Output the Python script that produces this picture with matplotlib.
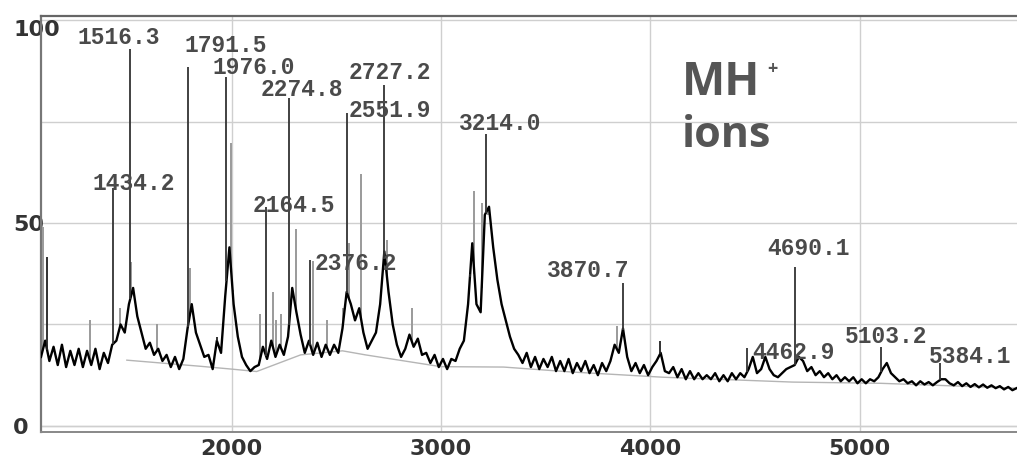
import numpy as np
import matplotlib.pyplot as plt

# spectrum trace, sampled every 20 m/z from 1090
trace_start = 1090
trace_step = 20
trace_int = [
    17, 21, 16, 19.5, 15, 20, 14.5, 18.5, 15, 19,
    14.5, 18.5, 15, 19, 14, 18, 15.5, 20, 21, 25,
    23, 30, 34, 27, 23, 19, 20.5, 17.5, 19, 16,
    17.5, 14.5, 17, 14, 16.5, 24, 30, 23, 20, 17,
    17.5, 14, 21, 18, 32, 44, 30, 22, 17, 15,
    13.5, 14.5, 15, 19.5, 16.5, 21, 17, 20, 17.5, 22,
    34, 28, 22.5, 18, 21, 17.5, 20.5, 17, 20, 17.5,
    20, 18, 24, 33, 30, 26, 29, 23, 19, 21,
    23, 30, 43, 33, 25, 20, 17, 19, 22.5, 19.5,
    21.5, 17.5, 18, 15.5, 17.5, 14.5, 16.5, 14, 16.5, 16,
    19, 21, 30, 45, 30, 28, 52, 54, 44, 36,
    30, 26, 22, 19, 17.5, 15.5, 18, 14.5, 17, 14,
    16.5, 14.5, 17, 13.5, 16, 13.5, 16.5, 13, 15.5, 13.5,
    16, 13, 15, 12.5, 15.5, 13.5, 16, 20, 18, 24,
    17, 13.5, 15.5, 13, 15, 12.5, 14.5, 16, 18, 13.5,
    13, 14.5, 12, 14, 11.5, 13.5, 11.5, 13, 11.5, 12.5,
    11.5, 13, 11, 12.5, 11, 13, 11.5, 13, 12, 14,
    17, 13, 14, 17, 14, 12.5, 12, 13, 14, 14.5,
    15, 17, 16, 13.5, 14.5, 12.5, 13.5, 12, 13, 11.5,
    12.5, 11, 12, 11, 12, 10.5, 11.5, 10.5, 11.5, 11,
    12, 14, 15.5, 13, 12, 11, 11.5, 10.5, 11, 10,
    11, 10.2, 10.8, 10, 10.8, 11.5, 11.5, 10.5, 10, 10.8,
    9.8, 10.5, 9.6, 10.3, 9.5, 10.2, 9.4, 10, 9.3, 9.8,
    9, 9.6, 8.8, 9.3,
]
trace_mz = trace_start + trace_step * np.arange(len(trace_int))

# labelled MH+ peaks
peak_mz = [1434.2, 1516.3, 1791.5, 1976.0, 2164.5, 2274.8, 2376.2, 2551.9,
           2727.2, 3214.0, 3870.7, 4462.9, 4690.1, 5103.2, 5384.1]
peak_int = [58.6, 92.8, 88.4, 85.9, 53.9, 80.8, 40.9, 77.0,
            84.0, 72.0, 35.2, 19.2, 39.1, 19.4, 15.5]
peak_labels = ["1434.2", "1516.3", "1791.5", "1976.0", "2164.5", "2274.8",
               "2376.2", "2551.9", "2727.2", "3214.0", "3870.7", "4462.9",
               "4690.1", "5103.2", "5384.1"]
label_mz = [1534, 1463, 1974, 2108, 2299, 2337, 2595, 2758,
            2758, 3283, 3704, 4683, 4755, 5128, 5529]
label_y = [59.8, 95.8, 93.8, 88.4, 54.4, 83.0, 40.1, 77.8,
           87.2, 74.6, 38.4, 18.2, 43.6, 22.1, 17.2]

# unlabelled spikes
black_mz = [1119, 1930, 3140, 4048]
black_int = [41.5, 22, 36.7, 21]
grey_mz = [1100, 1324, 1468, 1522, 1644, 1802, 1998, 2005, 2137, 2199, 2213,
           2237, 2308, 2390, 2457, 2533, 2563, 2619, 2743, 2863, 3160, 3195,
           3225, 3307, 3841]
grey_int = [49, 26, 29, 40.5, 25, 38.8, 69.6, 33, 27.6, 33, 26,
            27.6, 48.6, 40.7, 26, 29, 45, 62, 45.8, 29, 58, 55,
            52, 26.5, 24.7]

# fitted baseline
base_mz = [1500, 1850, 2000, 2120, 2330, 2530, 2640, 3000, 3300, 3620,
           4060, 4680, 5100, 5750]
base_int = [16.2, 14.7, 14.0, 13.4, 17.5, 18.5, 17.5, 14.6, 14.5, 13.3,
            12.0, 10.8, 10.5, 9.3]

fig = plt.figure(figsize=(10.17, 4.57), dpi=100)
ax = fig.add_axes([41 / 1017, 25 / 457, 976 / 1017, 416 / 457])

ax.set_xlim(1090, 5752)
ax.set_ylim(-1.5, 101)

ax.plot(base_mz, base_int, color="#b5b5b5", lw=1.0, zorder=2)

ax.vlines(grey_mz, np.interp(grey_mz, trace_mz, trace_int), grey_int,
          color="#9a9a9a", lw=1.4, zorder=3)
ax.plot(trace_mz, trace_int, color="#000000", lw=1.7, zorder=4)
ax.vlines(black_mz, np.interp(black_mz, trace_mz, trace_int), black_int,
          color="#222222", lw=1.3, zorder=4)
ax.vlines(peak_mz, np.interp(peak_mz, trace_mz, trace_int), peak_int,
          color="#333333", lw=1.3, zorder=5)

for lx, ly, txt in zip(label_mz, label_y, peak_labels):
    ax.text(lx, ly, txt, ha="center", va="center", fontsize=16.5,
            family="Liberation Mono", weight="bold", color="#4a4a4a", zorder=6)

ax.text(4153, 81.5, "MH", fontsize=33, family="Open Sans", weight="bold",
        color="#555555", va="baseline")
ax.text(4560, 88, "+", fontsize=13, family="Open Sans", weight="bold",
        color="#555555", va="center")
ax.text(4153, 68.7, "ions", fontsize=31, family="Open Sans", weight="bold",
        color="#555555", va="baseline")

# grid and frame
ax.set_xticks([2000, 3000, 4000, 5000])
ax.set_yticks([0, 50, 100])
ax.set_yticks([25, 75], minor=True)
ax.grid(True, which="both", color="#cfcfcf", lw=1.0, zorder=0)
ax.axhline(0, color="#cfcfcf", lw=1.0, zorder=0)
ax.tick_params(axis="both", which="both", length=0)
ax.tick_params(axis="x", pad=5, labelsize=16, labelcolor="#333333")
ax.tick_params(axis="y", pad=20, labelsize=16, labelcolor="#333333")
for lab in ax.get_xticklabels() + ax.get_yticklabels():
    lab.set_fontweight("bold")
for lab in ax.get_yticklabels():
    lab.set_horizontalalignment("left")
ax.get_yticklabels()[-1].set_verticalalignment("top")

ax.spines["right"].set_visible(False)
ax.spines["left"].set_color("#777777")
ax.spines["left"].set_linewidth(1.6)
ax.spines["top"].set_color("#666666")
ax.spines["top"].set_linewidth(1.6)
ax.spines["bottom"].set_color("#888888")
ax.spines["bottom"].set_linewidth(1.4)

fig.savefig("out.png", dpi=100)
